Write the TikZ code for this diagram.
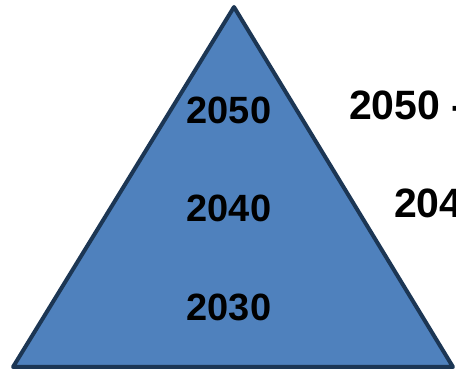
\documentclass[tikz,border=0pt]{standalone}
\usepackage{fontspec}
\setmainfont{Liberation Sans}

\definecolor{pyrfill}{HTML}{4F81BD}
\definecolor{pyrline}{HTML}{1C3654}

\tikzset{
  yearlabel/.style={font=\fontsize{38}{40}\selectfont\bfseries, inner sep=0pt, text=black},
  sidelabel/.style={yearlabel, font=\fontsize{41}{44}\selectfont\bfseries, anchor=west},
}

\begin{document}
\begin{tikzpicture}[x=1pt,y=-1pt]
\useasboundingbox (0,0) rectangle (456,374);
% pyramid
\coordinate (apex) at (234,7);
\coordinate (baseL) at (13,367);
\coordinate (baseR) at (453,367);
\draw[pyrline, fill=pyrfill, line width=4pt, line join=round] (apex) -- (baseR) -- (baseL) -- cycle;
% years inside
\node[yearlabel] (y2050) at (229,110) {2050};
\node[yearlabel] (y2040) at (229,208) {2040};
\node[yearlabel] (y2030) at (229,307) {2030};
% text on the right
\node[sidelabel] (r2050) at (349,105) {2050 -};
\node[sidelabel] (r2040) at (394,203) {204};
\end{tikzpicture}
\end{document}
